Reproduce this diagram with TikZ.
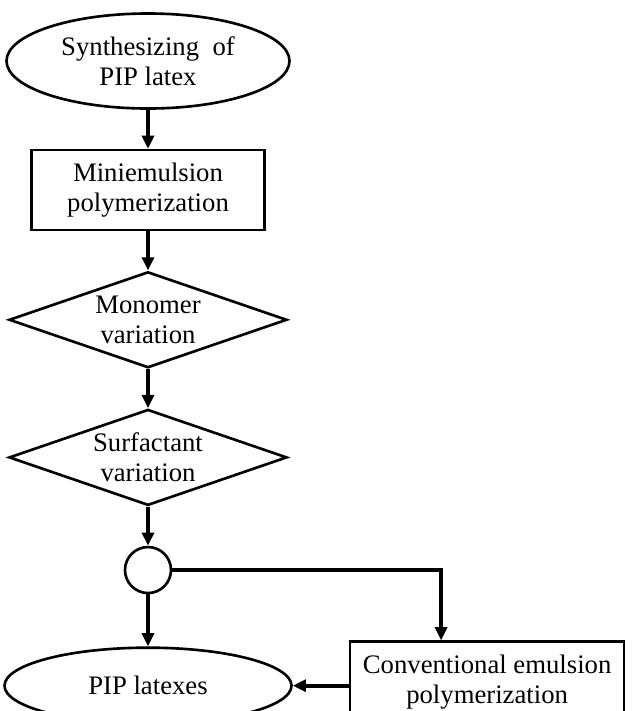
\documentclass[tikz,border=0pt]{standalone}
\usepackage{fontspec}
\setmainfont{Liberation Serif}
\usepackage{tikz}
\usetikzlibrary{shapes.geometric,arrows.meta,positioning}
\tikzset{
  basebox/.style={draw=black,line width=1.5pt,align=center,
                  font=\fontsize{15.2}{17}\selectfont,inner sep=1pt},
  termnode/.style={basebox,ellipse,minimum width=5.66cm,minimum height=1.9cm},
  procnode/.style={basebox,rectangle,minimum width=4.66cm,minimum height=1.6cm},
  decnode/.style={basebox,diamond,aspect=2.9,minimum width=5.56cm,minimum height=1.92cm},
  joinnode/.style={draw=black,line width=1.5pt,circle,minimum size=0.92cm,inner sep=0pt},
  arr/.style={-{Triangle[length=7.5pt,width=6.8pt]},line width=2.1pt}
}

\begin{document}
\begin{tikzpicture}[node distance=0.78cm]
  \useasboundingbox (0,0) rectangle (12.76,-14.22);
  \node[termnode] (start) at (2.96,-1.22)
      {Synthesizing\ \ of\\PIP latex};
  \node[procnode, below=of start] (mini)
      {Miniemulsion\\polymerization};
  \node[decnode, below=of mini] (mono)
      {Monomer\\variation};
  \node[decnode, below=of mono] (surf)
      {Surfactant\\variation};
  \node[joinnode, below=of surf] (junc) {};
  \node[termnode, minimum width=5.74cm, minimum height=1.52cm,
        below=1.04cm of junc] (latexes)
      {PIP latexes};
  \node[procnode, minimum width=5.48cm, right=1.12cm of latexes,
        yshift=0.08cm] (conv)
      {Conventional emulsion\\polymerization};

  \draw[arr] (start) -- (mini);
  \draw[arr] (mini) -- (mono);
  \draw[arr] (mono) -- (surf);
  \draw[arr] (surf) -- (junc);
  \draw[arr] (junc) -- (latexes);
  \draw[arr] (junc.east) -| ([xshift=-0.92cm]conv.north);
  \draw[arr] (conv.west |- latexes.east) -- (latexes.east);
\end{tikzpicture}
\end{document}
